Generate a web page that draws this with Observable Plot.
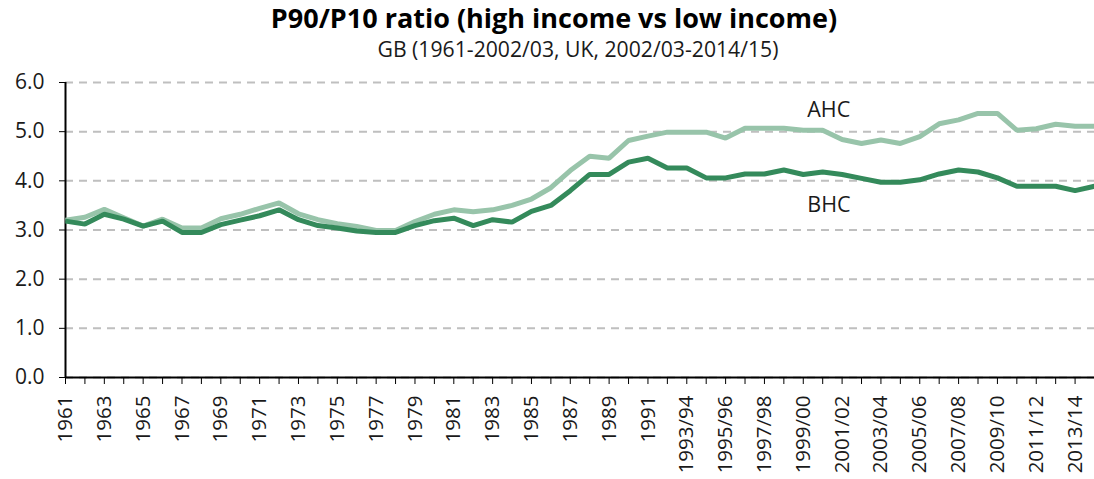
<!DOCTYPE html>
<html>
<head>
<meta charset="utf-8">
<script src="https://cdn.jsdelivr.net/npm/d3@7"></script>
<script src="https://cdn.jsdelivr.net/npm/@observablehq/plot@0.6"></script>
<style>
  html, body { margin: 0; padding: 0; background: #fff; }
  body { width: 1094px; height: 479px; overflow: hidden; font-family: "Open Sans", "Noto Sans", sans-serif; color: #1a1a1a; }
  #head { position: relative; height: 62px; z-index: 1; }
  #title { position: absolute; left: 554px; top: 0px; transform: translateX(-50%); white-space: nowrap; font-weight: bold; font-size: 27px; line-height: 36px; color: #000; }
  #subtitle { position: absolute; left: 578px; top: 35px; transform: translateX(-50%); white-space: nowrap; font-size: 21.2px; line-height: 28px; color: #1a1a1a; }
  svg { display: block; }
</style>
</head>
<body>
<div id="head">
  <div id="title">P90/P10 ratio (high income vs low income)</div>
  <div id="subtitle">GB (1961-2002/03, UK, 2002/03-2014/15)</div>
</div>
<div id="chart"></div>
<script>
const categories = [
  "1961","1962","1963","1964","1965","1966","1967","1968","1969","1970",
  "1971","1972","1973","1974","1975","1976","1977","1978","1979","1980",
  "1981","1982","1983","1984","1985","1986","1987","1988","1989","1990",
  "1991","1992","1993/94","1994/95","1995/96","1996/97","1997/98","1998/99","1999/00","2000/01",
  "2001/02","2002/03","2003/04","2004/05","2005/06","2006/07","2007/08","2008/09","2009/10","2010/11",
  "2011/12","2012/13","2013/14","2014/15"
];
const bhc = [
  3.18,3.12,3.32,3.22,3.08,3.18,2.95,2.95,3.11,3.20,
  3.29,3.41,3.21,3.09,3.04,2.98,2.95,2.95,3.09,3.19,
  3.24,3.09,3.21,3.16,3.38,3.50,3.80,4.13,4.13,4.38,
  4.46,4.26,4.26,4.06,4.06,4.14,4.14,4.22,4.13,4.18,
  4.13,4.05,3.97,3.97,4.02,4.14,4.22,4.18,4.06,3.89,
  3.89,3.89,3.80,3.89
];
const ahc = [
  3.20,3.26,3.42,3.25,3.08,3.22,3.04,3.04,3.23,3.32,
  3.44,3.55,3.33,3.21,3.13,3.07,2.99,2.99,3.17,3.32,
  3.41,3.37,3.41,3.50,3.63,3.86,4.21,4.50,4.46,4.82,
  4.91,4.99,4.99,4.99,4.87,5.07,5.07,5.07,5.03,5.03,
  4.84,4.76,4.83,4.76,4.90,5.16,5.24,5.37,5.37,5.03,
  5.06,5.15,5.11,5.11
];
const yTicks = [0, 1, 2, 3, 4, 5, 6];
const seriesNames = ["AHC", "BHC"];
const seriesColors = ["#98c4aa", "#348a5b"];
const labelCats = ["1999/00", "1999/00"];
const labelVals = [5.44, 3.5];

const idx = new Map(categories.map((c, i) => [c, i]));
const rows = [];
categories.forEach((c, i) => {
  rows.push({x: i, value: ahc[i], series: "AHC"});
  rows.push({x: i, value: bhc[i], series: "BHC"});
});
const labels = seriesNames.map((s, i) => ({x: idx.get(labelCats[i]), value: labelVals[i], text: s}));
const xTicks = d3.range(categories.length);

const chart = Plot.plot({
  width: 1094,
  height: 417,
  marginLeft: 65,
  marginRight: 0,
  marginTop: 20,
  marginBottom: 102,
  style: {fontFamily: "'Open Sans', 'Noto Sans', sans-serif", fontSize: "20px", color: "#1a1a1a", background: "transparent", overflow: "visible"},
  x: {domain: [0, categories.length - 1]},
  y: {domain: [0, 6]},
  color: {domain: seriesNames, range: seriesColors},
  marks: [
    Plot.gridY(yTicks, {stroke: "#bfbfbf", strokeOpacity: 1, strokeWidth: 2, strokeDasharray: "8,6"}),
    Plot.axisY(yTicks, {tickSize: 6, tickPadding: 15, tickFormat: d => d.toFixed(1), stroke: "#000", fontSize: 21, label: null}),
    Plot.axisX(xTicks, {tickSize: 7, tickPadding: 11, tickRotate: -90, stroke: "#000",
      tickFormat: i => i % 2 === 0 ? categories[i] : "", fontSize: 20.5, label: null}),
    Plot.ruleX([0], {y1: 0, y2: 6, stroke: "#000", strokeWidth: 2}),
    Plot.ruleY([0], {stroke: "#000", strokeWidth: 2}),
    Plot.line(rows, {x: "x", y: "value", z: "series", stroke: "series", strokeWidth: 5, strokeLinejoin: "miter", strokeLinecap: "butt"}),
    Plot.text(labels, {x: "x", y: "value", text: "text", textAnchor: "start", dx: 4, fontSize: 21.5, fill: "#1a1a1a"})
  ]
});
document.getElementById("chart").appendChild(chart);
</script>
</body>
</html>
